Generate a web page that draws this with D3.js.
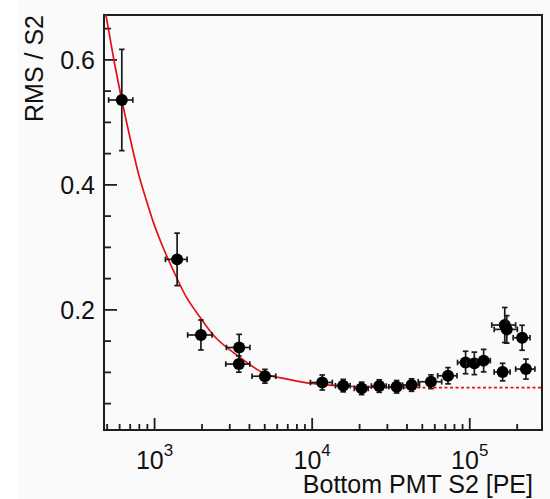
<!DOCTYPE html>
<html>
<head>
<meta charset="utf-8">
<script src="https://cdn.jsdelivr.net/npm/d3@7/dist/d3.min.js"></script>
<style>
  body { margin: 0; background: #ffffff; }
  svg { display: block; }
  svg text { font-family: "Liberation Sans", Arial, Helvetica, sans-serif; fill: #111; }
</style>
</head>
<body>
<div id="chart"></div>
<script>
// measured points (bottom PMT S2 in PE, RMS/S2)
var s2 = [624, 1400, 1983, 3467, 3450, 5050, 11670, 15850, 20750, 26830, 34600, 43050,
          57150, 73300, 94800, 107700, 123400, 162800, 168000, 173000, 216500, 229000];
var rms = [0.535, 0.280, 0.159, 0.139, 0.1125, 0.093, 0.083, 0.078, 0.0736, 0.0773, 0.0762, 0.0789,
           0.0842, 0.0938, 0.115, 0.1136, 0.118, 0.0997, 0.175, 0.168, 0.1546, 0.1045];
var s2_err = [109, 220, 350, 590, 600, 870, 1850, 1700, 2100, 2900, 3700, 5300,
              9700, 10300, 10500, 12000, 12600, 18900, 29000, 29000, 26500, 32000];
var rms_err = [0.081, 0.042, 0.024, 0.021, 0.013, 0.011, 0.012, 0.010, 0.010, 0.010, 0.010, 0.010,
               0.011, 0.013, 0.018, 0.018, 0.018, 0.014, 0.028, 0.022, 0.020, 0.016];

// fit curve
var fit_x = [495, 560, 624, 700, 800, 900, 1000, 1140, 1315, 1600, 2000, 2500, 3467, 5050,
             7000, 10000, 15000, 20000, 30000, 43000];
var fit_y = [0.671, 0.595, 0.535, 0.477, 0.415, 0.372, 0.336, 0.299, 0.264, 0.220, 0.184, 0.153,
             0.124, 0.097, 0.0885, 0.0815, 0.0778, 0.0764, 0.0754, 0.0748];
// dashed extension of the plateau
var plateau_x = [43000, 289500];
var plateau_y = [0.0748, 0.0748];

var x_major = [1e3, 1e4, 1e5];
var x_exp = ["3", "4", "5"];
var y_major = [0.2, 0.4, 0.6];
var y_minor = [0.05, 0.1, 0.15, 0.25, 0.3, 0.35, 0.45, 0.5, 0.55, 0.65];

var chart_w = 550, chart_h = 499;
var m_left = 104, m_right = 542, m_top = 15, m_bottom = 430;

var svg = d3.select("#chart").append("svg")
  .attr("width", chart_w)
  .attr("height", chart_h);

svg.append("rect")
  .attr("x", 18).attr("y", 0)
  .attr("width", chart_w - 18).attr("height", chart_h)
  .style("fill", "#fafafa");

var x = d3.scaleLog().domain([481, 289500]).range([m_left, m_right]);
var y = d3.scaleLinear().domain([0.007, 0.671]).range([m_bottom, m_top]);

//minor x ticks, 2..9 per decade
var x_minor = [];
for (var e = 2; e <= 5; e++) {
  for (var k = 2; k <= 9; k++) {
    var v = k * Math.pow(10, e);
    if (v > 481 && v < 289500) x_minor.push(v);
  }
}

svg.append("defs").append("clipPath").attr("id", "plot_clip")
  .append("rect")
  .attr("x", m_left).attr("y", m_top)
  .attr("width", m_right - m_left).attr("height", m_bottom - m_top);

// axes
var ax_col = "#1e1e1e";
var gx_minor = svg.append("g").attr("transform", "translate(0," + m_bottom + ")")
  .call(d3.axisBottom(x).tickValues(x_minor).tickSize(-6).tickFormat(""));
var gx = svg.append("g").attr("transform", "translate(0," + m_bottom + ")")
  .call(d3.axisBottom(x).tickValues(x_major).tickSize(-12).tickFormat(""));
var gy_minor = svg.append("g").attr("transform", "translate(" + m_left + ",0)")
  .call(d3.axisLeft(y).tickValues(y_minor).tickSize(-7).tickFormat(""));
var gy = svg.append("g").attr("transform", "translate(" + m_left + ",0)")
  .call(d3.axisLeft(y).tickValues(y_major).tickSize(-13).tickPadding(9).tickFormat(d3.format(".1f")));

[gx_minor, gx, gy_minor, gy].forEach(function (g) {
  g.select(".domain").remove();
  g.selectAll(".tick line").style("stroke", ax_col).style("stroke-width", 1.8);
});
gy.selectAll(".tick text")
  .style("font-size", "25px")
  .attr("dy", "0.36em")
  .style("fill", "#111");

// x labels as 10^n
gx.selectAll(".tick").each(function (d, i) {
  var t = d3.select(this).append("text")
    .attr("y", 39)
    .attr("text-anchor", "middle")
    .style("font-size", "25px")
    .style("fill", "#111");
  t.append("tspan").text("10");
  t.append("tspan").attr("dy", -13).style("font-size", "17px").text(x_exp[i]);
});

// frame
svg.append("rect")
  .attr("x", m_left).attr("y", m_top)
  .attr("width", m_right - m_left).attr("height", m_bottom - m_top)
  .style("fill", "none")
  .style("stroke", ax_col)
  .style("stroke-width", 2);

var plot = svg.append("g").attr("clip-path", "url(#plot_clip)");

// fit
var line = d3.line()
  .x(function (d) { return x(d[0]); })
  .y(function (d) { return y(d[1]); })
  .curve(d3.curveCatmullRom);

plot.append("path")
  .datum(d3.zip(fit_x, fit_y))
  .attr("d", line)
  .style("fill", "none")
  .style("stroke", "#e3101a")
  .style("stroke-width", 1.7);

plot.append("path")
  .datum(d3.zip(plateau_x, plateau_y))
  .attr("d", line)
  .style("fill", "none")
  .style("stroke", "#e3101a")
  .style("stroke-width", 1.8)
  .style("stroke-dasharray", "3,2.5");

// error bars + markers
var pts = d3.range(s2.length).map(function (i) {
  return { x: s2[i], y: rms[i], ex: s2_err[i], ey: rms_err[i] };
});
var cap = 2.8;
var g_pts = plot.selectAll(".pt").data(pts).enter().append("g").attr("class", "pt");

g_pts.each(function (d) {
  var g = d3.select(this);
  var cx = x(d.x), cy = y(d.y);
  var x0 = x(d.x - d.ex), x1 = x(d.x + d.ex);
  var y0 = y(d.y - d.ey), y1 = y(d.y + d.ey);
  var segs = [
    [x0, cy, x1, cy], [cx, y0, cx, y1],
    [x0, cy - cap, x0, cy + cap], [x1, cy - cap, x1, cy + cap],
    [cx - cap, y0, cx + cap, y0], [cx - cap, y1, cx + cap, y1]
  ];
  g.selectAll("line").data(segs).enter().append("line")
    .attr("x1", function (s) { return s[0]; })
    .attr("y1", function (s) { return s[1]; })
    .attr("x2", function (s) { return s[2]; })
    .attr("y2", function (s) { return s[3]; })
    .style("stroke", "#1a1a1a")
    .style("stroke-width", 1.7);
  g.append("circle")
    .attr("cx", cx).attr("cy", cy).attr("r", 6)
    .style("fill", "#000");
});

// titles
svg.append("text")
  .attr("transform", "translate(43," + m_top + ") rotate(-90)")
  .attr("text-anchor", "end")
  .style("font-size", "25px")
  .text("RMS / S2");

svg.append("text")
  .attr("x", 533).attr("y", 493)
  .attr("text-anchor", "end")
  .style("font-size", "25px")
  .text("Bottom PMT S2 [PE]");
</script>
</body>
</html>
